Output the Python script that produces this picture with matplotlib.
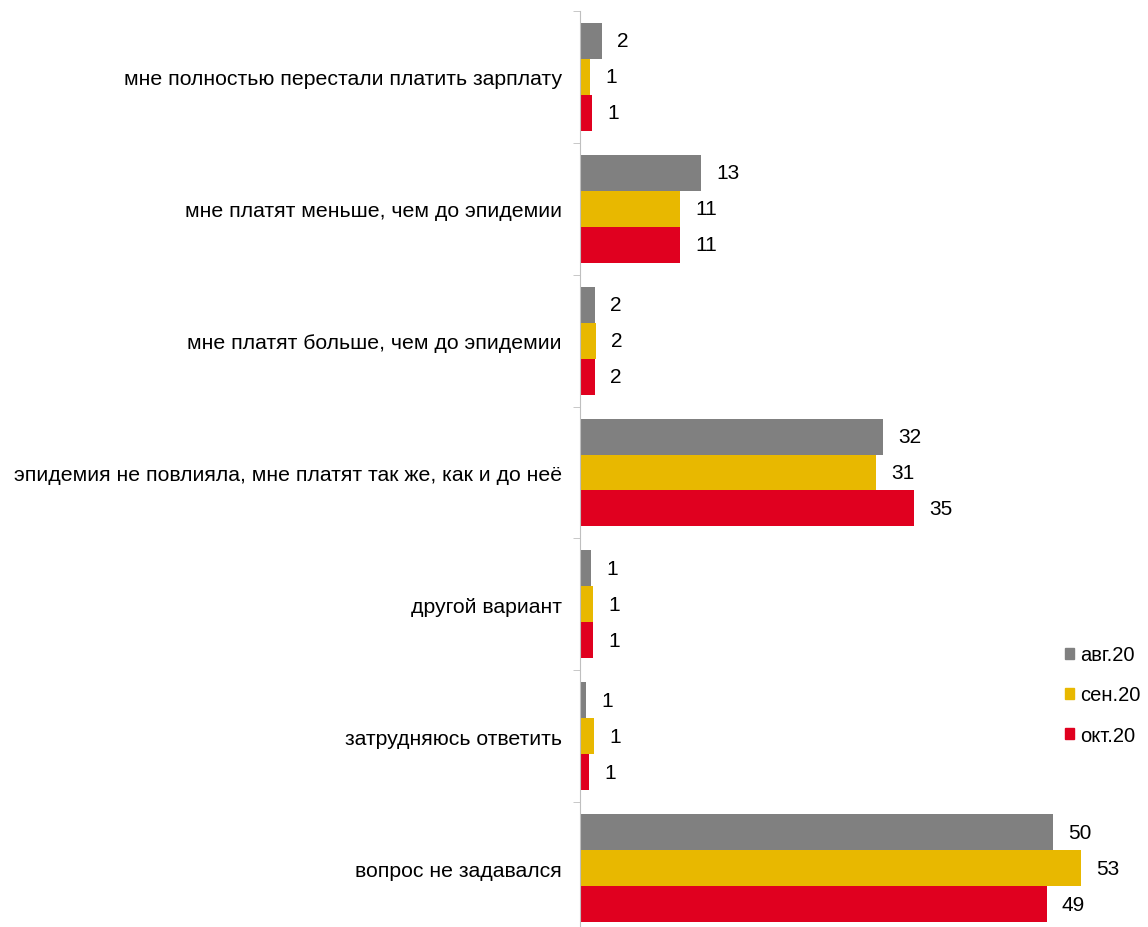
import numpy as np
import matplotlib
matplotlib.use("Agg")
import matplotlib.pyplot as plt
from matplotlib.patches import Patch

plt.rcParams['font.family'] = ['Liberation Sans', 'DejaVu Sans']

categories = [
    "мне полностью перестали платить зарплату",
    "мне платят меньше, чем до эпидемии",
    "мне платят больше, чем до эпидемии",
    "эпидемия не повлияла, мне платят так же, как и до неё",
    "другой вариант",
    "затрудняюсь ответить",
    "вопрос не задавался",
]
series_names = ["авг.20", "сен.20", "окт.20"]
aug = [2.3, 12.8, 1.6, 32.0, 1.2, 0.6, 50.0]
sep = [1.1, 10.6, 1.7, 31.3, 1.4, 1.5, 52.9]
oct_ = [1.3, 10.6, 1.6, 35.3, 1.4, 0.95, 49.3]
labels_aug = [2, 13, 2, 32, 1, 1, 50]
labels_sep = [1, 11, 2, 31, 1, 1, 53]
labels_oct = [1, 11, 2, 35, 1, 1, 49]

colors = ["#808080", "#E8B800", "#E0001F"]

fig = plt.figure(figsize=(11.48, 9.28), dpi=100)
# axes runs a little past the bottom edge, as in the original
ax = fig.add_axes([580 / 1148, -7 / 928, 568 / 1148, 923 / 928])

y = np.arange(len(categories))
h = 0.273
series = [aug, sep, oct_]
labels = [labels_aug, labels_sep, labels_oct]
for i, (vals, labs, c) in enumerate(zip(series, labels, colors)):
    pos = y + (i - 1) * h
    ax.barh(pos, vals, height=h, color=c, label=series_names[i])
    for p, v, lab in zip(pos, vals, labs):
        ax.annotate(str(lab), (v, p), xytext=(11, 0), textcoords="offset points",
                    va="center", ha="left", fontsize=15)

ax.set_xlim(0, 60)
ax.set_ylim(len(categories) - 0.5, -0.5)
ax.set_yticks(y)
ax.set_yticklabels(categories, fontsize=15.3)
ax.set_yticks(np.arange(-0.5, len(categories)), minor=True)
ax.tick_params(axis="y", which="major", length=0, pad=13)
ax.tick_params(axis="y", which="minor", length=5, color="#BFBFBF", direction="out")
ax.set_xticks([])
for s in ["top", "right", "bottom"]:
    ax.spines[s].set_visible(False)
ax.spines["left"].set_color("#BFBFBF")

handles = [Patch(color=c) for c in colors]
fig.legend(handles, series_names, loc="center left", bbox_to_anchor=(1047 / 1148, 232 / 928),
           frameon=False, fontsize=14.5, handlelength=0.45, handleheight=0.45,
           handletextpad=0.3, labelspacing=1.05)

fig.savefig("out.png", dpi=100)
